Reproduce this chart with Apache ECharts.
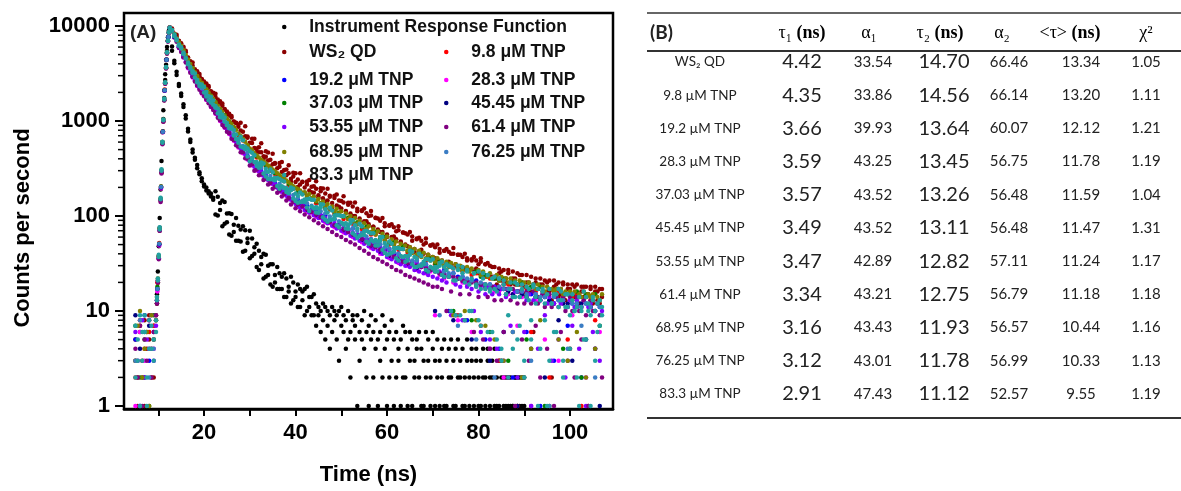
<!DOCTYPE html>
<html>
<head>
<meta charset="utf-8">
<script src="https://cdn.jsdelivr.net/npm/echarts/dist/echarts.min.js"></script>
<style>
html, body { margin: 0; padding: 0; background: #fff; }
#main { width: 1181px; height: 491px; }
</style>
</head>
<body>
<div id="main"></div>
<script>
// time channels (ns)
var timeFine = [
	5,5.5,6,6.5,7,7.5,8,8.5,9,9.5,
	9.7,9.9,10.1,10.3,10.5,10.7,10.9,11.1,11.3,11.5,11.7,11.9,12.1,12.3,
	12.5,13,13.5,14,14.5,15,15.5,16,16.5,17,
	17.5,18,18.5,19,19.5,20,20.5,21,21.5,22,
	22.5,23,23.5,24,24.5,25,25.5,26,26.5,27,
	27.5,28,28.5,29,29.5,30,30.5,31,31.5,32,
	32.5,33,33.5,34,34.5,35,35.5,36,36.5,37,
	37.5,38,38.5,39,39.5,40,40.5,41,41.5,42,
	42.5,43,43.5,44,44.5,45,45.5,46,46.5,47,
	47.5,48,48.5,49,49.5,50,50.5,51,51.5,52,
	52.5,53,53.5,54,54.5,55,55.5,56,56.5,57,
	57.5,58,58.5,59,59.5,60,60.5,61,61.5,62,
	62.5,63,63.5,64,64.5,65,65.5,66,66.5,67,
	67.5,68,68.5,69,69.5,70,70.5,71,71.5,72,
	72.5,73,73.5,74,74.5,75,75.5,76,76.5,77,
	77.5,78,78.5,79,79.5,80,80.5,81,81.5,82,
	82.5,83,83.5,84,84.5,85,85.5,86,86.5,87,
	87.5,88,88.5,89,89.5,90,90.5,91,91.5,92,
	92.5,93,93.5,94,94.5,95,95.5,96,96.5,97,
	97.5,98,98.5,99,99.5,100,100.5,101,101.5,102,
	102.5,103,103.5,104,104.5,105,105.5,106,106.5,107
];
var timeCoarse = [
	5,6,7,8,9,
	9.8,10.2,10.6,11,11.4,11.8,12.2,
	12.5,13.5,14.5,15.5,16.5,17.5,18.5,19.5,20.5,21.5,
	22.5,23.5,24.5,25.5,26.5,27.5,28.5,29.5,30.5,31.5,
	32.5,33.5,34.5,35.5,36.5,37.5,38.5,39.5,40.5,41.5,
	42.5,43.5,44.5,45.5,46.5,47.5,48.5,49.5,50.5,51.5,
	52.5,53.5,54.5,55.5,56.5,57.5,58.5,59.5,60.5,61.5,
	62.5,63.5,64.5,65.5,66.5,67.5,68.5,69.5,70.5,71.5,
	72.5,73.5,74.5,75.5,76.5,77.5,78.5,79.5,80.5,81.5,
	82.5,83.5,84.5,85.5,86.5,87.5,88.5,89.5,90.5,91.5,
	92.5,93.5,94.5,95.5,96.5,97.5,98.5,99.5,100.5,101.5,
	102.5,103.5,104.5,105.5,106.5
];

// counts per second; A/B = two readings per channel
var countsIrfA = [
	null,null,null,null,null,null,null,null,null,null,
	15,26,48,95,190,380,760,1300,2100,3100,4400,6000,7600,8900,
	9300,6100,4300,3300,2450,1950,1500,1150,830,640,
	500,390,345,275,250,205,200,172,172,148,
	182,101,137,78,140,86,107,62,81,95,
	55,72,42,71,52,70,38,47,51,27,
	37,22,39,24,31,18,24,29,17,23,
	14,22,16,23,13,16,19,11,16,9,
	18,11,14,9,12,9,10,8,11,7,
	9,11,8,5,10,7,9,4,10,6,
	8,5,9,3,8,10,6,7,5,2,
	8,1,6,9,4,5,2,8,1,6,
	3,5,7,2,4,6,1,3,5,2,
	4,1,6,3,2,4,1,5,3,2,
	5,1,4,2,3,1,5,2,4,1,
	3,2,4,1,3,2,1,4,2,3,
	1,2,4,1,3,2,1,2,1,2,
	1,2,1,2,1,2,null,null,null,null,
	null,null,null,null,null,null,null,null,null,null,
	null,null,null,null,null,null,null,null,null,null,
	null,null,null,null,null,null,null,null,null,null
];
var countsIrfB = [
	null,null,null,null,null,null,null,null,null,null,
	12,20,38,75,150,300,600,1050,1750,2700,3900,5500,7100,8500,
	8700,5500,4050,3050,2330,1830,1400,1060,775,600,
	465,410,318,288,232,214,186,182,160,156,
	104,159,116,146,83,106,64,105,68,55,
	79,54,78,43,58,36,58,40,29,43,
	31,40,23,30,19,31,20,17,25,17,
	25,14,18,12,20,14,11,17,13,17,
	10,14,9,15,7,11,6,12,5,10,
	4,6,10,9,3,11,6,8,5,2,
	9,7,1,6,5,4,2,1,9,6,
	4,5,3,2,7,1,6,3,5,2,
	4,1,2,6,1,3,5,2,4,6,
	1,3,2,5,1,6,3,2,1,4,
	1,3,2,5,1,4,2,3,1,2,
	5,1,3,2,4,1,3,2,1,4,
	2,3,1,2,1,3,2,1,2,1,
	1,2,2,1,2,1,null,null,null,null,
	null,null,null,null,null,null,null,null,null,null,
	null,null,null,null,null,null,null,null,null,null,
	null,null,null,null,null,null,null,null,null,null
];
var countsWs2A = [
	3,1,6,2,8,4,5,2,7,9,
	12,20,36,70,145,285,580,990,1650,2480,3600,5150,6900,8500,
	9650,9100,8300,7700,6950,6600,5850,5300,4650,4200,
	3820,3500,3180,2960,2740,2600,2390,2250,2060,1950,
	1790,1680,1540,1450,1320,1260,1150,1090,990,950,
	870,795,770,690,665,590,585,520,515,470,
	468,425,420,385,392,350,355,318,330,290,
	305,268,282,246,260,228,242,214,230,200,
	215,186,203,176,194,165,182,154,172,146,
	163,137,155,129,146,120,139,113,131,106,
	126,100,119,94,113,88,107,82,101,77,
	95,72,89,68,84,64,80,60,76,57,
	71,53,67,50,64,47,61,45,58,42,
	55,40,52,38,49,37,47,35,45,34,
	43,32,42,31,40,30,39,29,37,28,
	36,27,35,26,34,25,33,24,31,23,
	30,23,29,22,28,21,27,20,27,20,
	26,19,25,19,24,18,24,17,23,6,
	22,17,22,16,21,16,21,2,21,15,
	20,15,20,15,19,4,19,14,19,14,
	18,14,18,1,18,13,18,13,17,14
];
var countsWs2B = [
	5,2,7,3,1,6,9,4,2,8,
	13,21,37,73,148,290,590,1000,1660,2500,3630,5200,6950,8530,
	9500,9440,8070,8090,6980,6290,6060,5500,4600,4250,
	4130,3380,3340,3120,2760,2490,2480,2340,2030,1980,
	1930,1615,1610,1530,1336,1195,1195,1130,980,957,
	918,956,665,878,686,502,651,651,472,528,
	582,392,480,467,330,451,361,276,361,370,
	272,308,343,231,285,281,202,281,228,176,
	231,240,178,206,232,158,196,195,142,194,
	159,123,163,168,125,144,161,111,138,138,
	100,139,112,87,115,120,88,100,113,77,
	96,94,68,95,78,60,79,82,61,69,
	78,54,67,66,48,68,55,42,57,59,
	44,50,58,39,49,50,36,50,41,33,
	43,45,33,40,46,31,39,39,29,40,
	34,27,34,37,28,31,36,25,31,32,
	23,29,22,19,25,26,19,22,25,19,
	22,22,16,24,20,15,20,20,16,19,
	20,14,19,19,14,20,16,13,18,19,
	14,17,19,13,17,17,13,18,15,12,
	16,18,14,15,17,12,16,16,12,17
];
var countsTnp98 = [
	2,8,4,6,7,
	20,52,205,780,2150,4450,7700,
	9620,8300,6750,5500,4380,3550,2930,2500,2140,1830,
	1560,1320,1130,975,835,710,625,535,470,412,
	372,334,300,276,250,232,210,193,178,170,
	154,150,136,132,120,117,105,104,93,93,
	83,82,73,73,64,64,56,56,50,50,
	44,45,41,41,37,38,34,35,31,32,
	29,30,28,9,26,27,24,25,7,23,
	22,23,3,21,19,20,1,19,17,6,
	16,18,15,2,15,16,14,5,14,15,
	1,14,13,8,13
];
var countsTnp192 = [
	5,1,9,3,6,
	17,50,200,770,2100,4400,7650,
	9580,7700,6050,4880,3820,3050,2480,2080,1780,1500,
	1280,1080,915,790,670,575,500,430,378,330,
	298,268,244,220,205,184,173,153,148,133,
	130,117,115,102,102,91,92,81,82,72,
	74,64,66,57,57,50,50,44,45,39,
	40,35,37,32,34,29,31,27,28,25,
	27,10,25,23,23,8,21,21,19,5,
	19,18,4,17,17,2,16,16,6,15,
	14,1,14,13,3,13,13,7,12,12,
	2,12,11,4,11
];
var countsTnp283 = [
	1,6,3,8,4,
	16,49,195,760,2080,4380,7600,
	9560,7550,5850,4650,3600,2870,2330,1950,1660,1400,
	1190,1000,850,730,618,526,458,393,343,302,
	270,246,218,202,181,168,151,141,127,124,
	111,109,98,96,86,85,76,76,67,68,
	60,61,53,54,46,48,40,42,36,38,
	32,34,30,31,27,29,25,26,9,24,
	22,23,20,8,20,19,6,18,18,17,
	4,16,16,2,15,15,7,14,14,1,
	13,13,5,12,12,3,12,11,9,11,
	11,2,11,10,6
];
var countsTnp3703 = [
	7,2,5,1,9,
	18,51,205,775,2120,4420,7680,
	9610,8250,6700,5480,4370,3550,2930,2490,2150,1840,
	1580,1340,1150,990,850,725,640,548,482,425,
	382,345,312,284,261,239,219,200,186,174,
	162,154,142,136,125,121,110,108,98,96,
	88,86,77,77,66,68,58,60,52,53,
	46,48,43,43,39,40,35,36,32,33,
	30,31,10,29,27,28,8,26,23,24,
	6,22,21,22,3,20,19,20,5,18,
	17,18,1,17,16,17,4,15,15,16,
	2,15,14,15,7
];
var countsTnp4545 = [
	9,4,2,7,5,
	17,50,200,770,2100,4400,7620,
	9570,7620,5930,4740,3680,2940,2390,2000,1710,1440,
	1230,1030,880,755,640,545,476,408,356,314,
	280,256,226,209,188,175,157,147,132,129,
	116,114,102,100,90,89,80,80,71,71,
	63,63,56,57,48,50,42,44,38,40,
	34,35,31,33,28,30,26,27,10,25,
	23,24,8,22,21,21,5,19,19,18,
	3,17,17,6,16,15,1,15,14,4,
	14,13,2,13,12,8,12,12,3,11,
	12,5,11,10,1
];
var countsTnp5355 = [
	6,3,1,8,2,5,4,9,3,7,
	13,21,36,71,148,295,585,1010,1670,2500,3620,5200,6900,8520,
	9580,8850,7900,7000,6100,5450,4800,4200,3760,3300,
	3000,2680,2440,2210,2060,1910,1760,1610,1490,1370,
	1270,1150,1056,965,900,820,775,700,650,600,
	555,515,482,445,416,375,365,330,322,295,
	288,265,262,240,236,218,214,198,196,180,
	178,163,162,148,147,134,137,123,129,116,
	120,108,113,102,107,95,101,89,95,84,
	89,79,84,74,79,70,75,66,70,62,
	67,58,63,55,60,51,57,48,53,45,
	51,43,47,40,45,37,43,35,41,33,
	38,31,36,30,35,29,33,27,32,26,
	30,25,29,24,28,23,27,22,26,21,
	25,20,24,9,23,19,22,18,8,21,
	18,20,17,10,19,16,6,19,15,18,
	5,15,18,4,15,17,3,14,17,7,
	14,16,2,14,16,6,13,15,1,13,
	15,4,13,15,9,12,14,3,12,14,
	5,12,14,2,11,13,7,11,13,4,
	11,13,1,11,12,6,10,12,3,10
];
var countsTnp614 = [
	4,2,7,1,5,3,8,2,6,9,
	12,20,35,70,140,280,570,980,1640,2460,3580,5150,6850,8450,
	9550,8800,7800,6840,5950,5320,4700,4140,3670,3230,
	2920,2600,2360,2130,1970,1820,1680,1535,1410,1305,
	1210,1080,1020,905,860,770,745,650,630,555,
	540,470,470,405,400,340,350,300,308,268,
	275,240,248,215,224,194,203,176,186,160,
	170,146,155,132,141,121,133,112,126,104,
	118,97,110,90,104,84,97,78,92,73,
	86,68,80,63,76,60,72,56,68,53,
	64,50,60,46,57,43,53,40,49,37,
	47,35,44,33,41,31,39,29,37,27,
	35,26,33,24,32,23,31,22,30,21,
	29,20,28,19,27,18,26,18,25,17,
	24,10,23,16,23,9,22,15,21,8,
	21,15,20,6,20,14,19,5,19,14,
	4,18,13,3,18,13,6,17,2,13,
	17,1,12,16,5,12,16,3,12,16,
	7,12,2,15,11,4,15,11,1,14,
	11,6,14,10,3,14,10,2,14,10,
	5,13,9,1,13,10,4,12,9,2
];
var countsTnp6895 = [
	3,7,10,2,4,6,1,9,5,8,
	14,22,38,74,152,305,600,1030,1700,2540,3680,5280,6980,8580,
	9620,9020,8200,7450,6700,6200,5560,4960,4450,3970,
	3620,3250,2980,2710,2530,2330,2160,1990,1840,1710,
	1580,1450,1340,1245,1145,1070,995,930,865,808,
	740,695,650,605,560,515,492,458,436,413,
	390,374,356,340,322,309,295,282,270,258,
	247,236,227,216,206,198,192,186,176,178,
	162,170,154,160,144,151,135,142,127,134,
	119,126,112,119,106,112,99,106,93,100,
	88,95,83,89,78,84,73,78,68,73,
	64,69,60,65,56,61,53,57,50,54,
	47,51,45,49,43,47,41,45,39,43,
	37,41,36,39,34,37,33,36,31,34,
	30,33,29,32,9,31,28,30,27,10,
	29,26,28,25,8,27,24,26,7,23,
	25,22,5,24,21,23,3,22,20,22,
	6,21,19,21,2,20,18,20,4,19,
	17,19,8,18,16,18,1,17,16,17,
	5,17,15,16,3,16,15,16,6,15,
	14,16,2,15,14,15,4,14,13,15
];
var countsTnp7625 = [
	3,8,6,2,4,
	17,51,202,772,2110,4410,7660,
	9590,7820,6200,5030,3970,3190,2610,2210,1890,1610,
	1380,1160,990,850,730,620,545,465,410,358,
	322,290,263,238,219,199,184,166,156,145,
	136,128,121,112,107,99,94,88,83,79,
	74,70,66,61,57,54,50,47,45,42,
	40,37,37,34,34,31,31,29,28,9,
	26,25,25,7,23,22,21,5,20,19,
	19,2,18,17,17,6,16,16,15,3,
	15,14,14,1,14,13,13,4,12,12,
	7,12,11,2,11
];
var countsTnp833A = [
	2,5,9,3,6,1,4,7,5,8,
	13,21,37,72,150,300,590,1020,1680,2520,3650,5250,6950,8550,
	9600,9080,7850,7280,6250,5990,5100,4620,3960,3700,
	3270,3160,2565,2450,2417,1993,2019,1656,1793,1486,
	1441,1209,1260,1082,1091,902,880,859,705,721,
	589,684,526,536,422,480,403,437,337,350,
	366,280,315,245,308,243,253,207,245,206,
	231,179,189,200,153,173,138,177,141,149,
	123,152,125,148,109,120,133,97,118,87,
	122,92,101,80,102,85,100,74,81,91,
	66,80,59,83,63,69,54,68,56,66,
	49,54,60,44,52,39,54,41,46,36,
	46,38,45,33,38,43,31,37,29,40,
	30,33,27,35,29,35,26,29,32,24,
	29,27,30,10,28,21,30,9,25,20,
	26,10,22,25,19,8,17,25,19,6,
	17,22,17,5,22,3,19,15,9,17,
	4,14,19,7,17,2,14,17,5,19,
	14,1,13,17,8,15,3,12,15,6,
	17,13,2,11,15,4,13,10,11,1,
	11,16,5,12,9,13,3,12,7,11
];
var countsTnp833B = [
	7,3,1,6,9,2,8,4,3,6,
	14,22,39,76,156,310,605,1040,1720,2560,3700,5300,7000,8600,
	9450,8930,8150,7080,6400,5800,5270,4560,4120,3560,
	3340,2862,2700,2340,2337,2279,1813,1818,1569,1640,
	1399,1352,1098,1171,989,950,840,830,806,648,
	646,540,627,504,514,378,462,370,370,322,
	343,356,261,291,243,289,239,251,194,237,
	196,197,174,187,194,144,163,140,168,141,
	150,113,148,120,124,108,123,132,92,109,
	91,114,93,102,76,100,81,84,73,84,
	90,63,74,62,78,63,70,51,66,54,
	56,49,55,60,41,49,40,51,42,46,
	34,45,37,38,34,39,42,29,36,30,
	38,31,35,26,34,28,29,26,30,33,
	23,31,23,29,21,9,27,22,29,8,
	27,19,10,25,18,26,7,22,17,24,
	16,6,23,16,22,4,21,15,2,20,
	14,20,5,14,19,3,18,13,8,18,
	12,17,4,16,12,1,17,12,6,15,
	11,16,3,15,11,9,15,10,2,14,
	10,5,14,10,1,14,10,6,13,9
];

// panel (B) fit table
var tableRows = ['WS₂ QD', '9.8 µM TNP', '19.2 µM TNP', '28.3 µM TNP', '37.03 µM TNP', '45.45 µM TNP',
	'53.55 µM TNP', '61.4 µM TNP', '68.95 µM TNP', '76.25 µM TNP', '83.3 µM TNP'];
var tau1 = [4.42, 4.35, 3.66, 3.59, 3.57, 3.49, 3.47, 3.34, 3.16, 3.12, 2.91];
var alpha1 = [33.54, 33.86, 39.93, 43.25, 43.52, 43.52, 42.89, 43.21, 43.43, 43.01, 47.43];
var tau2 = [14.70, 14.56, 13.64, 13.45, 13.26, 13.11, 12.82, 12.75, 11.93, 11.78, 11.12];
var alpha2 = [66.46, 66.14, 60.07, 56.75, 56.48, 56.48, 57.11, 56.79, 56.57, 56.99, 52.57];
var tauAvg = [13.34, 13.20, 12.12, 11.78, 11.59, 11.47, 11.24, 11.18, 10.44, 10.33, 9.55];
var chiSq = [1.05, 1.11, 1.21, 1.19, 1.04, 1.31, 1.17, 1.18, 1.16, 1.13, 1.19];

var xTicks = [10, 20, 30, 40, 50, 60, 70, 80, 90, 100];
var xLabels = [20, 40, 60, 80, 100];
var yMinorTicks = [2, 3, 4, 5, 6, 7, 8, 9, 20, 30, 40, 50, 60, 70, 80, 90,
	200, 300, 400, 500, 600, 700, 800, 900, 2000, 3000, 4000, 5000, 6000, 7000, 8000, 9000];

function toPoints(times, counts) {
	var pts = [];
	for (var i = 0; i < times.length; i++) {
		if (counts[i] != null) pts.push([times[i], counts[i]]);
	}
	return pts;
}

var seriesDefs = [
	{name: 'Instrument Response Function', color: '#000000', data: toPoints(timeFine, countsIrfA).concat(toPoints(timeFine, countsIrfB)), spot: [282, 17]},
	{name: 'WS₂ QD', color: '#8b0000', data: toPoints(timeFine, countsWs2A).concat(toPoints(timeFine, countsWs2B)), spot: [282, 42]},
	{name: '9.8 μM TNP', color: '#ff0000', data: toPoints(timeCoarse, countsTnp98), spot: [444, 42]},
	{name: '19.2 μM TNP', color: '#0000ff', data: toPoints(timeCoarse, countsTnp192), spot: [282, 70]},
	{name: '28.3 μM TNP', color: '#ff00ff', data: toPoints(timeCoarse, countsTnp283), spot: [444, 70]},
	{name: '37.03 μM TNP', color: '#008000', data: toPoints(timeCoarse, countsTnp3703), spot: [282, 93]},
	{name: '45.45 μM TNP', color: '#000080', data: toPoints(timeCoarse, countsTnp4545), spot: [444, 93]},
	{name: '53.55 μM TNP', color: '#8000ff', data: toPoints(timeFine, countsTnp5355), spot: [282, 117]},
	{name: '61.4 μM TNP', color: '#800080', data: toPoints(timeFine, countsTnp614), spot: [444, 117]},
	{name: '68.95 μM TNP', color: '#808000', data: toPoints(timeFine, countsTnp6895), spot: [282, 142]},
	{name: '76.25 μM TNP', color: '#3b7dc4', data: toPoints(timeCoarse, countsTnp7625), spot: [444, 142]},
	{name: '83.3 μM TNP', color: '#22a0a0', data: toPoints(timeFine, countsTnp833A).concat(toPoints(timeFine, countsTnp833B)), spot: [282, 165]}
];

var series = [];
var legends = [];
seriesDefs.forEach(function(d) {
	series.push({
		name: d.name,
		type: 'scatter',
		xAxisIndex: 1,
		yAxisIndex: 1,
		symbol: 'circle',
		symbolSize: 4.5,
		itemStyle: {color: d.color, opacity: 1},
		emphasis: {disabled: true},
		data: d.data
	});
	legends.push({
		data: [d.name],
		left: d.spot[0],
		top: d.spot[1],
		padding: 0,
		icon: 'circle',
		itemWidth: 40,
		itemHeight: 4.5,
		selectedMode: false,
		textStyle: {fontFamily: 'Liberation Sans', fontWeight: 'bold', fontSize: 17.5, color: '#111', lineHeight: 20}
	});
});

// titles and the table, drawn as graphic text
var graphics = [
	{type: 'text', x: 130, y: 33, style: {text: '(A)', font: 'bold 19px "Liberation Sans"', fill: '#222', verticalAlign: 'middle'}},
	{type: 'text', x: 23, y: 228, rotation: Math.PI / 2, style: {text: 'Counts per second', font: 'bold 22px "Liberation Sans"', fill: '#000', align: 'center', verticalAlign: 'middle'}},
	{type: 'line', shape: {x1: 647, y1: 13, x2: 1181, y2: 13}, style: {stroke: '#333', lineWidth: 1.5}},
	{type: 'line', shape: {x1: 647, y1: 51, x2: 1181, y2: 51}, style: {stroke: '#333', lineWidth: 2}},
	{type: 'line', shape: {x1: 647, y1: 418, x2: 1181, y2: 418}, style: {stroke: '#333', lineWidth: 2}},
	{type: 'text', x: 650, y: 33, style: {text: '(B)', font: 'bold 19px Lato', fill: '#222', verticalAlign: 'middle'}}
];
var headRich = {
	t: {fontFamily: 'Liberation Serif', fontSize: 18, color: '#222'},
	b: {fontFamily: 'Liberation Serif', fontSize: 18, fontWeight: 'bold', color: '#222'}
};
var headTexts = ['{t|τ₁}{b| (ns)}', '{t|α₁}', '{t|τ₂}{b| (ns)}', '{t|α₂}', '{t|<τ>}{b| (ns)}', '{t|χ²}'];
var headX = [802, 869, 940, 1002, 1070, 1146];
headTexts.forEach(function(h, i) {
	graphics.push({type: 'text', x: headX[i], y: 33, style: {text: h, rich: headRich, align: 'center', verticalAlign: 'middle'}});
});
var valueCols = [tau1, alpha1, tau2, alpha2, tauAvg, chiSq];
var valueX = [802, 873, 944, 1009, 1081, 1146];
var valueSize = [20, 15, 20, 15, 15, 15];
tableRows.forEach(function(label, r) {
	var y = 62 + r * 33.2;
	graphics.push({type: 'text', x: 700, y: y, style: {text: label, font: '13.5px Lato', fill: '#222', align: 'center', verticalAlign: 'middle'}});
	valueCols.forEach(function(col, c) {
		graphics.push({type: 'text', x: valueX[c], y: y, style: {text: col[r].toFixed(2), font: valueSize[c] + 'px Lato', fill: '#222', align: 'center', verticalAlign: 'middle'}});
	});
});

var boldText = {fontFamily: 'Liberation Sans', fontWeight: 'bold', fontSize: 22, color: '#000'};

var myChart = echarts.init(document.getElementById('main'));
var option = {
	animation: false,
	backgroundColor: '#fff',
	grid: [
		{left: 124, right: 568, top: 13, bottom: 78, show: true, borderColor: '#000', borderWidth: 2.5, backgroundColor: 'transparent'},
		{left: 124, right: 568, top: 26, bottom: 85}
	],
	xAxis: [{
		gridIndex: 0,
		type: 'value',
		min: 2.5,
		max: 109.4,
		axisLine: {show: true, lineStyle: {color: '#000', width: 2.5}},
		axisTick: {show: true, length: 7, customValues: xTicks, lineStyle: {color: '#000', width: 2}},
		axisLabel: Object.assign({customValues: xLabels, margin: 13}, boldText),
		splitLine: {show: false},
		name: 'Time (ns)',
		nameLocation: 'middle',
		nameGap: 55,
		nameTextStyle: boldText
	}, {
		gridIndex: 1,
		type: 'value',
		min: 2.5,
		max: 109.4,
		show: false
	}],
	yAxis: [{
		gridIndex: 0,
		type: 'value',
		show: false
	}, {
		gridIndex: 1,
		type: 'log',
		logBase: 10,
		min: 1,
		max: 10000,
		axisLine: {show: false},
		axisTick: {show: true, length: 9, lineStyle: {color: '#000', width: 2}},
		axisLabel: Object.assign({margin: 14, formatter: function(v) { return String(Math.round(v)); }}, boldText),
		splitLine: {show: false}
	}],
	legend: legends,
	graphic: graphics,
	series: series
};
myChart.setOption(option);

// minor ticks of the log axis (2..9 in every decade), placed through the axis scale
var minorMarks = yMinorTicks.map(function(v) {
	var p = myChart.convertToPixel({xAxisIndex: 1, yAxisIndex: 1}, [2.5, v]);
	return {type: 'line', shape: {x1: p[0] - 6, y1: p[1], x2: p[0], y2: p[1]}, style: {stroke: '#000', lineWidth: 1.5}};
});
myChart.setOption({graphic: graphics.concat(minorMarks)});
</script>
</body>
</html>
